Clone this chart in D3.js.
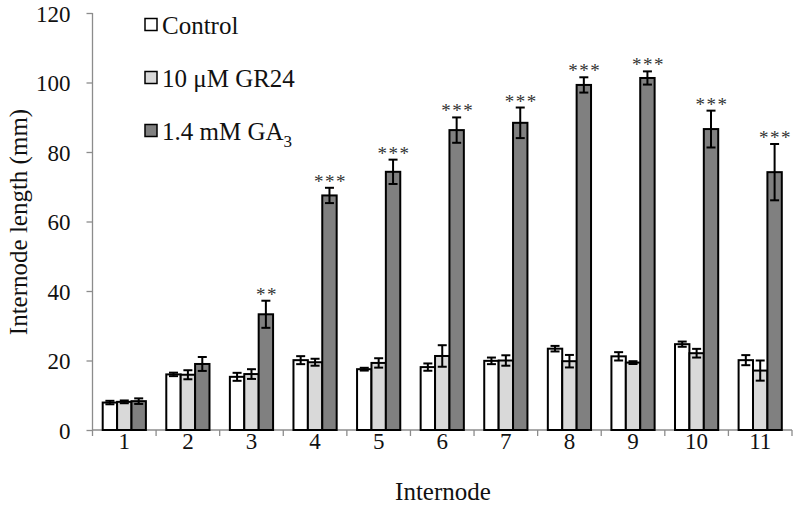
<!DOCTYPE html>
<html><head><meta charset="utf-8">
<script src="https://cdn.jsdelivr.net/npm/d3@7"></script>
<style>body{margin:0;background:#fff}svg{display:block}svg text{font-family:"Liberation Serif","Times New Roman",serif}</style>
</head><body><svg id="c" width="796" height="508" font-family="Liberation Serif, Times New Roman, serif"></svg>
<script>
const categories = ["1","2","3","4","5","6","7","8","9","10","11"];
const seriesNames = ["Control","10 μM GR24","1.4 mM GA3"];
const control    = [7.9, 16.0, 15.3, 20.1, 17.5, 18.1, 19.9, 23.4, 21.2, 24.7, 20.1];
const controlErr = [0.5, 0.5, 1.15, 1.15, 0.4, 1.05, 0.95, 0.8, 1.2, 0.75, 1.45];
const gr24       = [8.1, 15.9, 16.1, 19.5, 19.3, 21.3, 20.0, 19.8, 19.4, 22.1, 17.1];
const gr24Err    = [0.4, 1.3, 1.4, 1.0, 1.35, 3.1, 1.5, 1.8, 0.4, 1.25, 2.9];
const ga3        = [8.3, 19.0, 33.3, 67.5, 74.3, 86.3, 88.4, 99.3, 101.3, 86.6, 74.2];
const ga3Err     = [0.8, 2.0, 3.9, 2.2, 3.5, 3.65, 4.4, 2.2, 1.9, 5.3, 8.1];
const signif     = ["", "", "**", "***", "***", "***", "***", "***", "***", "***", "***"];
const yTicks = [0, 20, 40, 60, 80, 100, 120];

const FONT = "Liberation Serif, Times New Roman, serif";
const colors = ["#ffffff", "#d9d9d9", "#808080"];
const axisColor = "#8c8c8c";
const svg = d3.select("#c");
const x = d3.scaleBand().domain(categories).range([92.5, 792]).padding(0);
const y = d3.scaleLinear().domain([0, 120]).range([430, 13]);
const bw = 14.4;
const xs = d3.scaleBand().domain([0,1,2]).range([-1.5*bw, 1.5*bw]);

const series = [
  {vals: control, errs: controlErr},
  {vals: gr24, errs: gr24Err},
  {vals: ga3, errs: ga3Err}
];

// Y axis
const yAxis = d3.axisLeft(y).tickValues(yTicks).tickSize(6).tickFormat(d3.format("d"));
const gy = svg.append("g").attr("transform", "translate(92.5,0)").call(yAxis).attr("font-family", FONT);
gy.selectAll("path,line").attr("stroke", axisColor).attr("stroke-width", 1.3);
gy.select(".domain").attr("d", `M0,${y(120)}V${y(0)}`);
gy.selectAll("text").attr("font-size", 23).attr("font-family", FONT).attr("fill", "#111").attr("x", -22).attr("dy", "0.35em");

// X axis line and boundary ticks
const gx = svg.append("g");
gx.append("line").attr("x1", x.range()[0]).attr("x2", x.range()[1]).attr("y1", y(0)).attr("y2", y(0))
  .attr("stroke", axisColor).attr("stroke-width", 1.3);
const bounds = categories.map(c => x(c)).concat([x.range()[1]]);
gx.selectAll("line.t").data(bounds).join("line").attr("class","t")
  .attr("x1", d=>d).attr("x2", d=>d).attr("y1", y(0)).attr("y2", y(0)+6)
  .attr("stroke", axisColor).attr("stroke-width", 1.3);
gx.selectAll("text").data(categories).join("text")
  .attr("x", d => x(d) + x.bandwidth()/2).attr("y", 449)
  .attr("text-anchor", "middle").attr("font-size", 23).attr("font-family", FONT).attr("fill", "#111").text(d=>d);

// Bars
series.forEach((s, si) => {
  const g = svg.append("g");
  g.selectAll("rect").data(categories).join("rect")
    .attr("x", (d,i) => x(d) + x.bandwidth()/2 + xs(si))
    .attr("y", (d,i) => y(s.vals[i]))
    .attr("width", xs.bandwidth())
    .attr("height", (d,i) => y(0) - y(s.vals[i]))
    .attr("fill", colors[si]).attr("stroke", "#000").attr("stroke-width", 2);
});
// Error bars
series.forEach((s, si) => {
  const g = svg.append("g").attr("stroke", "#000").attr("stroke-width", 2);
  categories.forEach((c, i) => {
    const cx = x(c) + x.bandwidth()/2 + xs(si) + xs.bandwidth()/2;
    const lo = y(s.vals[i] - s.errs[i]), hi = y(s.vals[i] + s.errs[i]);
    g.append("line").attr("x1", cx).attr("x2", cx).attr("y1", lo).attr("y2", hi);
    g.append("line").attr("x1", cx-4.5).attr("x2", cx+4.5).attr("y1", lo).attr("y2", lo);
    g.append("line").attr("x1", cx-4.5).attr("x2", cx+4.5).attr("y1", hi).attr("y2", hi);
  });
});
// Significance
svg.append("g").selectAll("text").data(categories).join("text")
  .attr("x", (d,i) => x(d) + x.bandwidth()/2 + xs(2) + xs.bandwidth()/2 + 1)
  .attr("y", (d,i) => y(ga3[i] + ga3Err[i]))
  .attr("text-anchor", "middle").attr("font-size", 19).attr("font-family", FONT).attr("fill", "#333")
  .attr("letter-spacing", 1.5)
  .text((d,i) => signif[i]);

// Axis titles
svg.append("text").attr("transform", "translate(27,222) rotate(-90)")
  .attr("text-anchor", "middle").attr("font-size", 25).attr("font-family", FONT).attr("fill", "#111").text("Internode length (mm)");
svg.append("text").attr("x", 443).attr("y", 500).attr("text-anchor", "middle")
  .attr("font-size", 25).attr("font-family", FONT).attr("fill", "#111").text("Internode");

// Legend
const legY = [25, 78, 131];
const lg = svg.append("g");
seriesNames.forEach((n, i) => {
  lg.append("rect").attr("x", 145).attr("y", legY[i]-6.5).attr("width", 12).attr("height", 12)
    .attr("fill", colors[i]).attr("stroke", "#000").attr("stroke-width", 1.5);
  const t = lg.append("text").attr("x", 162).attr("y", legY[i] + 8.5).attr("font-size", 25)
    .attr("font-family", FONT).attr("fill", "#111");
  if (i === 2) {
    t.append("tspan").text("1.4 mM GA");
    t.append("tspan").attr("font-size", 17).attr("dy", 7).text("3");
  } else t.text(n);
});
</script></body></html>
